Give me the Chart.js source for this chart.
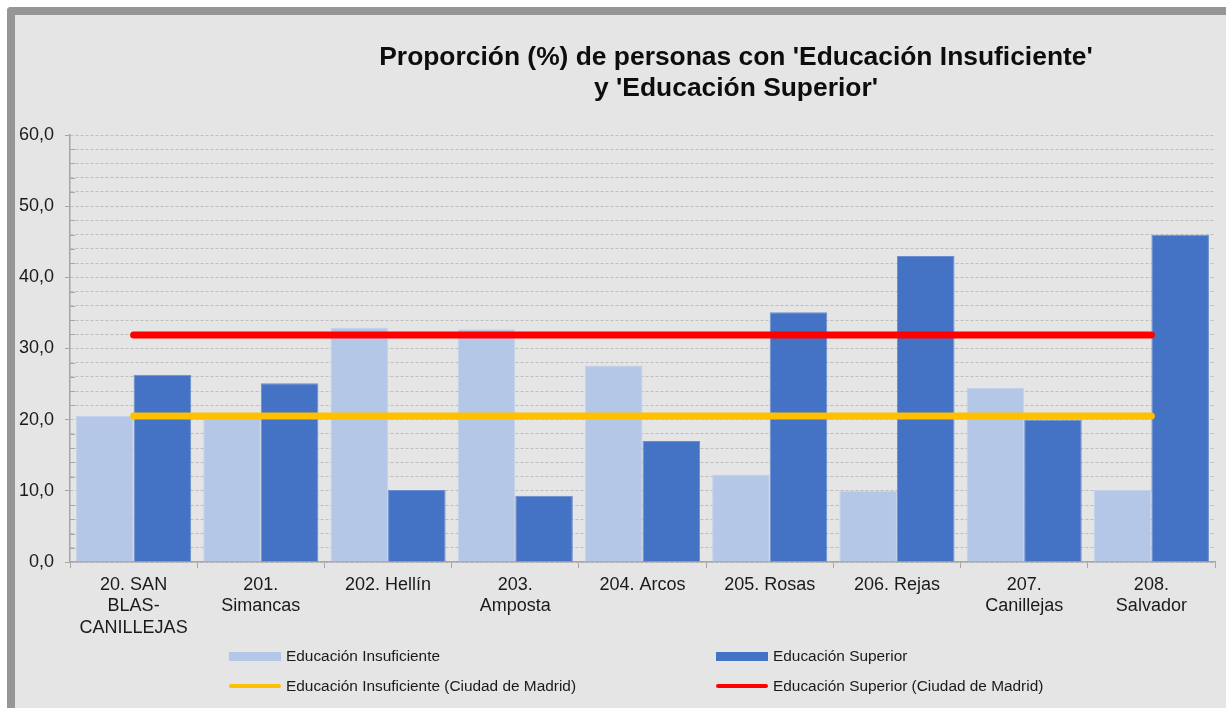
<!DOCTYPE html>
<html>
<head>
<meta charset="utf-8">
<script src="https://cdn.jsdelivr.net/npm/chart.js@4.4.1/dist/chart.umd.min.js"></script>
<style>
  html, body { margin: 0; padding: 0; background: #ffffff; width: 1226px; height: 708px; overflow: hidden; }
  #frame { position: absolute; left: 7px; top: 7px; width: 1240px; height: 720px;
           border-left: 8px solid #969696; border-top: 8px solid #969696; border-top-left-radius: 4px;
           background: #e5e5e5; }
  #wrap { position: absolute; left: 0; top: 0; width: 1211px; height: 693px; }
  #legend { position: absolute; left: 0; top: 0; width: 1211px; height: 693px; pointer-events: none;
            font-family: 'Liberation Sans', Arial, sans-serif; font-size: 15.4px; color: #1a1a1a; }
  .li { position: absolute; display: flex; align-items: center; white-space: nowrap; }
  .sw { display: inline-block; width: 52px; margin-right: 5px; }
</style>
</head>
<body>
<div id="frame">
  <div id="wrap"><canvas id="c"></canvas></div>
  <div id="legend"></div>
</div>
<script>
const titleLines = ["Proporción (%) de personas con 'Educación Insuficiente'", "y 'Educación Superior'"];
const categories = [
  ["20. SAN", "BLAS-", "CANILLEJAS"],
  ["201.", "Simancas"],
  "202. Hellín",
  ["203.", "Amposta"],
  "204. Arcos",
  "205. Rosas",
  "206. Rejas",
  ["207.", "Canillejas"],
  ["208.", "Salvador"]
];
const seriesNames = [
  "Educación Insuficiente",
  "Educación Superior",
  "Educación Insuficiente (Ciudad de Madrid)",
  "Educación Superior (Ciudad de Madrid)"
];
const eduInsuficiente = [20.5, 20.4, 32.9, 32.7, 27.6, 12.3, 10.0, 24.5, 10.1];
const eduSuperior     = [26.3, 25.1, 10.1, 9.3, 17.0, 35.1, 43.0, 20.0, 46.0];
const madridInsuficiente = [20.5, 20.5, 20.5, 20.5, 20.5, 20.5, 20.5, 20.5, 20.5];
const madridSuperior     = [31.9, 31.9, 31.9, 31.9, 31.9, 31.9, 31.9, 31.9, 31.9];
const yMin = 0, yMax = 60, yMajorStep = 10, yMinorStep = 2;

const FONT = "'Liberation Sans', Arial, sans-serif";
const colors = { insuf: '#b4c7e7', sup: '#4472c4', mInsuf: '#ffc000', mSup: '#ff0000' };

const titlePlugin = {
  id: 'customTitle',
  afterDraw(chart) {
    const ctx = chart.ctx;
    ctx.save();
    ctx.font = "bold 26.4px " + FONT;
    ctx.fillStyle = '#0d0d0d';
    ctx.textAlign = 'center';
    ctx.textBaseline = 'middle';
    ctx.fillText(titleLines[0], 721, 43);
    ctx.fillText(titleLines[1], 721, 74);
    ctx.restore();
  }
};

const minorTickPlugin = {
  id: 'minorTicks',
  afterDraw(chart) {
    const y = chart.scales.y;
    const ctx = chart.ctx;
    ctx.save();
    ctx.strokeStyle = '#a6a6a6';
    ctx.lineWidth = 1;
    for (let v = yMin; v <= yMax; v += yMinorStep) {
      if (v % yMajorStep === 0) continue;
      const py = Math.round(y.getPixelForValue(v)) + 0.5;
      ctx.beginPath();
      ctx.moveTo(y.right, py);
      ctx.lineTo(y.right + 5, py);
      ctx.stroke();
    }
    ctx.restore();
  }
};

const chart = new Chart(document.getElementById('c'), {
  type: 'bar',
  data: {
    labels: categories,
    datasets: [
      { type: 'line', label: seriesNames[3], data: madridSuperior, borderColor: colors.mSup, backgroundColor: colors.mSup,
        borderWidth: 7, borderCapStyle: 'round', pointRadius: 0, order: 1 },
      { type: 'line', label: seriesNames[2], data: madridInsuficiente, borderColor: colors.mInsuf, backgroundColor: colors.mInsuf,
        borderWidth: 7, borderCapStyle: 'round', pointRadius: 0, order: 1 },
      { label: seriesNames[0], data: eduInsuficiente, backgroundColor: colors.insuf, borderColor: '#c3d2ec', borderWidth: 1, order: 2 },
      { label: seriesNames[1], data: eduSuperior, backgroundColor: colors.sup, borderColor: '#6a8ed0', borderWidth: 1, order: 2 }
    ]
  },
  options: {
    responsive: true,
    maintainAspectRatio: false,
    animation: false,
    layout: { padding: { left: 0, right: 11, top: 120, bottom: 0 } },
    datasets: { bar: { categoryPercentage: 0.905, barPercentage: 1.0 } },
    plugins: {
      legend: { display: false },
      tooltip: { enabled: false },
      title: { display: false }
    },
    scales: {
      x: {
        offset: true,
        grid: { display: true, drawOnChartArea: false, drawTicks: true, tickLength: 6, tickColor: '#a6a6a6', offset: true },
        border: { display: true, color: '#a6a6a6', width: 1.5 },
        ticks: { color: '#1a1a1a', font: { family: FONT, size: 18, lineHeight: 1.2 }, autoSkip: false, maxRotation: 0, minRotation: 0, padding: 6 },
        afterFit(scale) { scale.height = 146; }
      },
      y: {
        min: yMin, max: yMax,
        ticks: {
          stepSize: yMinorStep,
          autoSkip: false,
          color: '#1a1a1a',
          font: { family: FONT, size: 18 },
          padding: 11,
          callback: (v) => (v % yMajorStep === 0 ? v.toFixed(1).replace('.', ',') : '')
        },
        grid: {
          color: '#bdbdbd', lineWidth: 1, tickLength: 5,
          tickColor: (ctx) => (ctx.tick && ctx.tick.value % yMajorStep === 0 ? '#a6a6a6' : 'rgba(0,0,0,0)')
        },
        border: { display: true, color: '#a6a6a6', width: 1.5, dash: [3, 2] },
        afterFit(scale) { scale.width = 55; }
      }
    }
  },
  plugins: [titlePlugin, minorTickPlugin]
});

// HTML legend built from the datasets
const legendEl = document.getElementById('legend');
const legendItems = [
  { name: seriesNames[0], color: colors.insuf, kind: 'box', x: 214, y: 641 },
  { name: seriesNames[1], color: colors.sup, kind: 'box', x: 701, y: 641 },
  { name: seriesNames[2], color: colors.mInsuf, kind: 'line', x: 214, y: 671 },
  { name: seriesNames[3], color: colors.mSup, kind: 'line', x: 701, y: 671 }
];
legendItems.forEach(it => {
  const d = document.createElement('div');
  d.className = 'li';
  d.style.left = it.x + 'px';
  d.style.top = (it.y - 10) + 'px';
  d.style.height = '20px';
  const sw = document.createElement('span');
  sw.className = 'sw';
  sw.style.background = it.color;
  if (it.kind === 'box') { sw.style.height = '9px'; } else { sw.style.height = '4px'; sw.style.borderRadius = '2px'; }
  const t = document.createElement('span');
  t.textContent = it.name;
  d.appendChild(sw); d.appendChild(t);
  legendEl.appendChild(d);
});
</script>
</body>
</html>
